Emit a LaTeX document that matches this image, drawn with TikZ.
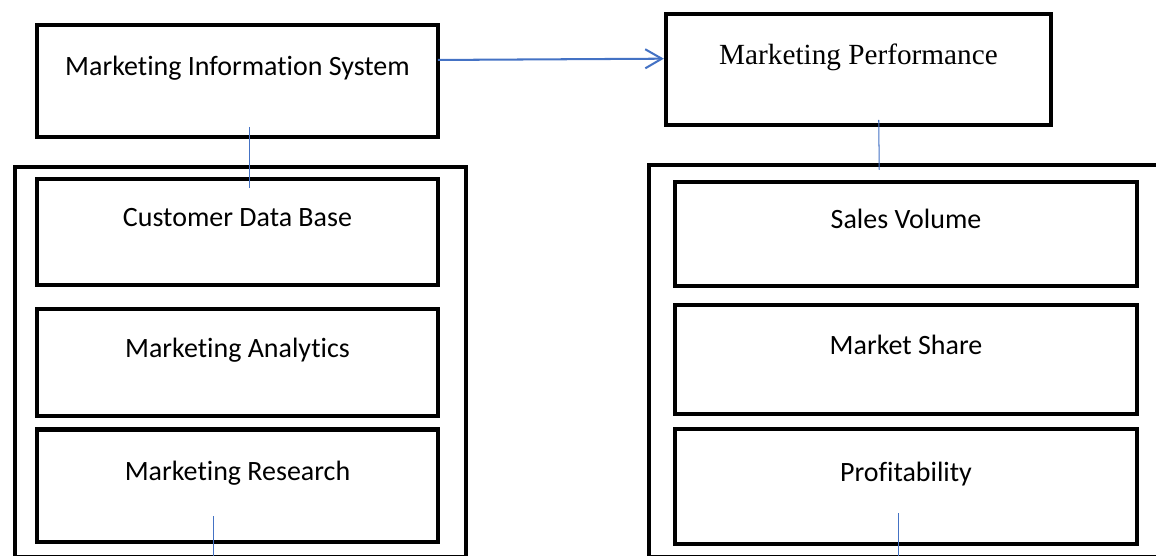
\documentclass[tikz,border=0pt]{standalone}
\usepackage{fontspec}
\setmainfont{Carlito}[Ligatures=NoCommon]
\newfontfamily\timesfont{Liberation Serif}
\usetikzlibrary{arrows.meta, calc, positioning}
\definecolor{linkblue}{RGB}{68,114,196}

\begin{document}
\begin{tikzpicture}[>={Straight Barb[length=6.5pt,width=7.5pt]},
    box/.style={draw, rectangle, line width=1.6pt, inner sep=0pt, outer sep=0pt, align=center, text height=8pt, text depth=12pt, font=\fontsize{11pt}{13pt}\selectfont},
    frame/.style={draw, line width=1.6pt},
    link/.style={draw=linkblue, line width=0.4pt}]

    \useasboundingbox (0,0) rectangle (15.976,7.684);
    \clip (0,0) rectangle (15.976,7.684);

    % outer frames, cut off at the page edge
    \draw[frame] (0.207,-0.021) rectangle (6.440,5.376);
    \draw[frame] (8.969,-0.021) rectangle (16.3,5.404);

    \node[box, minimum width=5.54cm, minimum height=1.55cm] (mis) at (3.282,6.565) {Marketing Information System};
    \node[box, minimum width=5.32cm, minimum height=1.53cm, font=\timesfont\fontsize{11.5pt}{14pt}\selectfont] (mp) at (11.864,6.723) {Marketing Performance};

    \node[box, minimum width=5.54cm, minimum height=1.46cm] (cdb) at (3.282,4.478) {Customer Data Base};
    \node[box, minimum width=5.54cm, minimum height=1.48cm, below=0.33cm of cdb] (ma) {Marketing Analytics};
    \node[box, minimum width=5.54cm, minimum height=1.56cm, below=0.19cm of ma] (mr) {Marketing Research};

    \node[box, minimum width=6.38cm, minimum height=1.44cm] (sv) at (12.521,4.450) {Sales Volume};
    \node[box, minimum width=6.38cm, minimum height=1.51cm, below=0.26cm of sv] (ms) {Market Share};
    \node[box, minimum width=6.38cm, minimum height=1.58cm, below=0.21cm of ms] (pf) {Profitability};

    \coordinate (mrout) at ([xshift=-0.33cm, yshift=-0.25cm]mr.south);
    \coordinate (pfout) at ([xshift=-0.10cm, yshift=-0.25cm]pf.south);

    \draw[link, ->, line width=0.8pt, shorten >=0.03cm] ([yshift=0.29cm]mis.east) -- ([yshift=0.15cm]mp.west);
    \draw[link] ([xshift=0.17cm, yshift=0.14cm]mis.south) -- ([xshift=0.17cm, yshift=-0.12cm]cdb.north);
    \draw[link] ([xshift=0.28cm, yshift=0.07cm]mp.south) -- ([xshift=-0.37cm, yshift=0.17cm]sv.north);
    \draw[link] ([xshift=-0.33cm, yshift=0.36cm]mr.south) -- (mrout);
    \draw[link] ([xshift=-0.10cm, yshift=0.42cm]pf.south) -- (pfout);
\end{tikzpicture}
\end{document}
